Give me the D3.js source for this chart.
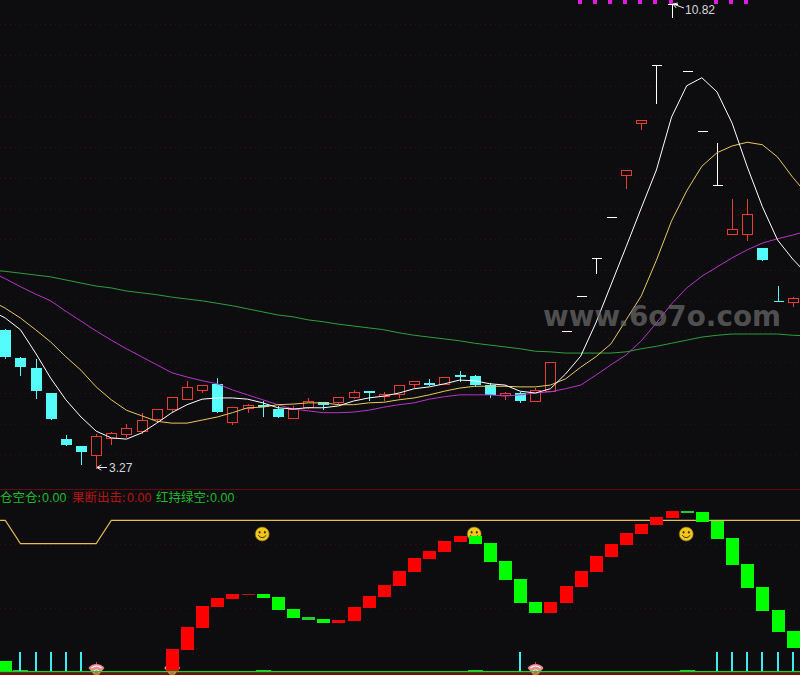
<!DOCTYPE html>
<html><head><meta charset="utf-8">
<script src="https://cdn.jsdelivr.net/npm/d3@7/dist/d3.min.js"></script>
<style>html,body{margin:0;padding:0;background:#0d0d0f;overflow:hidden}svg{display:block}</style>
</head><body>
<script>
const open_ = [5.52,5.06,4.90,4.49,3.74,3.63,3.48,3.76,3.82,3.87,4.07,4.23,4.39,4.54,4.64,4.02,4.25,4.30,4.23,4.08,4.26,4.34,4.34,4.43,4.52,4.44,4.47,4.64,4.65,4.64,4.79,4.77,4.62,4.46,4.49,4.36,4.52,5.50,6.07,6.69,7.35,8.04,8.88,9.83,10.82,9.73,8.75,7.87,7.08,7.08,6.85,5.99,5.97];
const high_ = [5.55,5.09,5.06,4.49,3.82,3.63,3.84,3.87,4.00,4.18,4.23,4.43,4.70,4.62,4.75,4.28,4.33,4.38,4.30,4.30,4.43,4.36,4.43,4.56,4.54,4.52,4.62,4.69,4.73,4.75,4.86,4.80,4.67,4.52,4.52,4.59,4.99,5.50,6.07,6.69,7.35,8.12,8.93,9.83,10.82,9.73,8.75,8.57,7.66,7.66,6.85,6.25,6.07];
const low_ = [5.06,4.78,4.41,4.07,3.64,3.34,3.27,3.66,3.77,3.84,4.03,4.20,4.39,4.51,4.18,3.99,4.18,4.12,4.10,4.08,4.25,4.23,4.31,4.41,4.38,4.38,4.43,4.59,4.62,4.64,4.69,4.60,4.43,4.39,4.34,4.36,4.52,5.50,6.07,6.44,7.35,7.83,8.79,9.21,10.61,9.73,8.75,7.87,7.08,6.98,6.65,5.99,5.91];
const close_ = [5.08,4.91,4.52,4.07,3.64,3.53,3.79,3.84,3.92,4.05,4.23,4.43,4.59,4.62,4.18,4.26,4.30,4.26,4.10,4.23,4.36,4.30,4.43,4.51,4.49,4.47,4.62,4.69,4.64,4.75,4.78,4.62,4.46,4.49,4.36,4.54,4.99,5.50,6.07,6.69,7.35,8.12,8.93,9.83,10.82,9.73,8.75,7.87,7.16,7.40,6.65,5.99,6.04];
const whiteCandles = [37,38,39,40,43,44,45,46,47];
const signalDots = [38,39,40,41,42,43,44,47,48,49];
const priceTicks = [3.5,4,4.5,5,5.5,6,6.5,7,7.5,8,8.5,9,9.5,10,10.5];

// moving averages, index -1 .. 53
const maWhite = [5.84,5.71,5.52,5.14,4.73,4.38,4.10,3.87,3.76,3.74,3.84,4.00,4.17,4.30,4.39,4.41,4.41,4.39,4.33,4.25,4.23,4.25,4.25,4.28,4.36,4.41,4.44,4.49,4.56,4.59,4.64,4.70,4.69,4.64,4.62,4.52,4.49,4.56,4.80,5.09,5.63,6.25,6.87,7.50,8.12,8.98,9.49,9.62,9.39,8.88,8.17,7.52,6.98,6.67,6.41];
const maYellow = [6.00,5.87,5.71,5.52,5.32,5.08,4.86,4.59,4.38,4.21,4.12,4.03,4.00,4.00,4.05,4.10,4.17,4.25,4.26,4.30,4.31,4.33,4.33,4.30,4.30,4.33,4.34,4.38,4.41,4.46,4.52,4.57,4.60,4.60,4.60,4.59,4.59,4.62,4.72,4.91,5.08,5.29,5.68,6.07,6.65,7.29,7.78,8.18,8.40,8.51,8.57,8.53,8.33,8.00,7.71];
const maPurple = [6.46,6.35,6.22,6.10,5.99,5.82,5.66,5.50,5.35,5.21,5.08,4.95,4.82,4.75,4.69,4.64,4.54,4.46,4.38,4.30,4.23,4.20,4.17,4.17,4.18,4.21,4.26,4.30,4.33,4.39,4.43,4.46,4.46,4.46,4.44,4.46,4.49,4.51,4.56,4.62,4.78,4.95,5.11,5.34,5.63,5.94,6.20,6.39,6.54,6.69,6.82,6.93,7.00,7.06,7.13];
const maGreen = [6.49,6.47,6.44,6.41,6.38,6.33,6.28,6.23,6.20,6.15,6.12,6.09,6.05,6.02,5.99,5.95,5.91,5.86,5.81,5.76,5.73,5.68,5.65,5.61,5.58,5.55,5.52,5.47,5.43,5.40,5.37,5.34,5.30,5.27,5.24,5.21,5.17,5.16,5.14,5.14,5.14,5.14,5.16,5.21,5.25,5.30,5.35,5.40,5.43,5.45,5.45,5.45,5.45,5.43,5.42];

// lower panel
const swingOpen = [3.1,.3,null,null,null,null,null,null,null,null,null,0,6.6,13.5,20.1,22.6,23.9,24.2,23.2,19.5,17.0,16.3,15.1,15.7,19.8,23.2,26.7,31.1,35.2,37.4,40.5,42.4,40.2,34.5,28.9,21.7,18.2,21.4,26.4,31.1,35.8,39.6,43.0,45.8,48.0,50.2,49.9,47.1,41.8,33.6,26.4,19.2,12.6];
const swingClose = [0,0,null,null,null,null,null,null,null,null,null,6.9,13.8,20.4,22.9,24.2,24.2,22.9,19.2,16.6,16.0,15.1,16.0,20.1,23.6,27.0,31.4,35.5,37.7,40.8,42.4,39.9,34.2,28.6,21.4,18.2,21.7,26.7,31.4,36.1,39.9,43.3,46.2,48.4,50.2,49.6,46.8,41.4,33.3,26.1,18.8,12.2,7.2];
const limitLine = [47.3,47.3,40,40,40,40,40,40,47.3,47.3,47.3];
const limitIdx = [-1,0,1,2,3,4,5,6,7,30,53];
const stickIdx = [1,2,3,4,5,34,47,48,49,50,51,52];
const stickValue = 6;
const thinBars = [1,17,31,45];
const smileIdx = [17,31,45];
const smileValue = 43;
const gemIdx = [6,11,35];
const swingTicks = [20,40];
const legendItems = [
  {label:"仓空仓: ", value:"0.00", color:"#1fbb2b"},
  {label:"果断出击: ", value:"0.00", color:"#b81414"},
  {label:"红持绿空: ", value:"0.00", color:"#1fbb2b"}
];

const BG = "#0d0d0f", RED = "#e83c34", CYAN = "#54fcfc";
const W = 800, H = 675;
const svg = d3.select("body").append("svg").attr("width",W).attr("height",H);
svg.append("rect").attr("width",W).attr("height",H).attr("fill",BG);

const x = d3.scaleLinear().domain([0,52]).range([5.3,792.7]);
const y = d3.scaleLinear().domain([3.27,10.82]).range([468,4]);
const yLow = d3.scaleLinear().domain([0,50]).range([671,511.75]);
const px = i => Math.round(x(i));
const rnd = v => Math.round(v);

// grids
const gridStyle = g => { g.select(".domain").remove();
  g.selectAll("line").attr("stroke","#3c1212").attr("stroke-dasharray","1 4").attr("stroke-width",1); };
svg.append("g").attr("transform","translate(0,0.5)")
  .call(d3.axisRight(y).tickValues(priceTicks).tickSize(W).tickFormat(""))
  .call(gridStyle);
svg.append("g").attr("transform","translate(0,0.5)")
  .call(d3.axisRight(yLow).tickValues(swingTicks).tickSize(W).tickFormat(""))
  .call(gridStyle);

// candles
const candles = svg.append("g").attr("shape-rendering","crispEdges");
open_.forEach((o,i) => {
  const c = close_[i], h = high_[i], l = low_[i], cx = px(i);
  const top = rnd(y(Math.max(o,c))), bot = rnd(y(Math.min(o,c)));
  const ln = (x1,y1,x2,y2,col) => candles.append("line").attr("x1",x1+.5).attr("x2",x2+.5).attr("y1",y1+.5).attr("y2",y2+.5).attr("stroke",col);
  if (o === c) {
    const col = whiteCandles.includes(i) ? "#ffffff" : CYAN;
    ln(cx-5,top,cx+5,top,col);
    ln(cx,rnd(y(h)),cx,rnd(y(l)),col);
  } else if (c > o) {
    ln(cx,rnd(y(h)),cx,top,RED);
    ln(cx,bot,cx,rnd(y(l)),RED);
    candles.append("rect").attr("x",cx-5+.5).attr("y",top+.5).attr("width",10).attr("height",Math.max(1,bot-top)).attr("fill",BG).attr("stroke",RED);
  } else {
    ln(cx,rnd(y(h)),cx,rnd(y(l)),CYAN);
    candles.append("rect").attr("x",cx-5).attr("y",top).attr("width",11).attr("height",Math.max(2,bot-top)).attr("fill",CYAN);
  }
});

// moving averages
const maLine = d3.line().x((d,i)=>x(i-1)).y(d=>y(d));
[[maGreen,"#2f9e3f",1],[maPurple,"#b535c8",1],[maYellow,"#e8c860",1],[maWhite,"#ffffff",1]].forEach(([d,col,w])=>{
  svg.append("path").attr("d",maLine(d)).attr("fill","none").attr("stroke",col).attr("stroke-width",w);
});

// signal dots
svg.append("g").attr("shape-rendering","crispEdges").selectAll("rect").data(signalDots).join("rect")
  .attr("x",i=>px(i)-3).attr("y",0).attr("width",4).attr("height",4).attr("fill","#e01ee0");

// high/low labels
function arrow(x1,y1,x2,y2){
  const a = Math.atan2(y1-y2,x1-x2), s=5;
  svg.append("line").attr("x1",x1).attr("y1",y1).attr("x2",x2).attr("y2",y2).attr("stroke","#f0f0f0").attr("stroke-width",1);
  svg.append("path").attr("fill","none").attr("stroke","#f0f0f0")
    .attr("d",`M${x1+s*Math.cos(a+2.6)},${y1+s*Math.sin(a+2.6)}L${x1},${y1}L${x1+s*Math.cos(a-2.6)},${y1+s*Math.sin(a-2.6)}`);
}
const lowI = d3.range(open_.length).reduce((a,b)=>low_[b]<low_[a]?b:a,0);
const highI = d3.range(open_.length).reduce((a,b)=>high_[b]>high_[a]?b:a,0);
arrow(px(lowI)+1,y(low_[lowI])-0.5,px(lowI)+11,y(low_[lowI])-0.5);
arrow(px(highI)+1,y(high_[highI]),px(highI)+12,y(high_[highI])+4);
const lab = (xx,yy,t)=>svg.append("text").attr("x",xx).attr("y",yy).attr("fill","#d6d6d6").attr("font-family","Liberation Sans, Arial, sans-serif").attr("font-size",12).text(t);
lab(109,471.5,low_[lowI].toFixed(2));
lab(685,14,high_[highI].toFixed(2));

// panel separators
svg.append("line").attr("x1",0).attr("x2",W).attr("y1",489.5).attr("y2",489.5).attr("stroke","#5c0c0c");
svg.append("rect").attr("x",0).attr("y",673).attr("width",W).attr("height",2).attr("fill","#80090f");

// legend
const legendX = [[0,42],[72,127],[156,210]];
legendItems.forEach((d,i)=>{
  svg.append("text").attr("x",legendX[i][0]).attr("y",502).attr("fill",d.color).attr("font-size",12.5)
    .attr("font-family","'Noto Sans CJK SC',sans-serif").text(d.label.trim());
  svg.append("text").attr("x",legendX[i][1]).attr("y",502).attr("fill",d.color).attr("font-size",12.5)
    .attr("font-family","Liberation Sans, Arial, sans-serif").text(d.value);
});

// limit line
const limitPath = d3.line().x((d,i)=>x(limitIdx[i])).y(d=>yLow(d));
svg.append("path").attr("d",limitPath(limitLine)).attr("fill","none").attr("stroke","#e6bd55").attr("stroke-width",1.1);

// smileys
function smile(i){
  const g = svg.append("g").attr("transform",`translate(${x(i)-0.5},${yLow(smileValue)})`);
  g.append("circle").attr("r",7).attr("fill","#f2c81e").attr("stroke","#7c6410").attr("stroke-width",.6);
  [-2.6,2.6].forEach(dx=>g.append("ellipse").attr("cx",dx).attr("cy",-1.8).attr("rx",.9).attr("ry",1.3).attr("fill","#3a2e05"));
  g.append("path").attr("d","M-4,1.2Q0,6 4,1.2").attr("fill","none").attr("stroke","#3a2e05").attr("stroke-width",1);
}
smileIdx.forEach(smile);

// gems
function gem(i){
  const g = svg.append("g").attr("transform",`translate(${x(i)+0.3},${yLow(0)-4})`);
  g.append("path").attr("d","M-8,1Q-5,-3 0,-3Q5,-3 8,1L2,8L-2,8Z").attr("fill","#f08a90");
  g.append("path").attr("d","M-5,1Q0,-3 5,1").attr("fill","none").attr("stroke","#ffffff").attr("stroke-width",1.1);
  g.append("path").attr("d","M-3,4Q0,1 3,4").attr("fill","none").attr("stroke","#ffd8d8").attr("stroke-width",1);
  g.append("line").attr("x1",0).attr("x2",0).attr("y1",-5).attr("y2",-3).attr("stroke","#e04a4a");
  g.append("rect").attr("x",-2).attr("y",5).attr("width",4).attr("height",3).attr("fill","#c8702a");
}
gemIdx.forEach(gem);

// swing bars
const bars = svg.append("g").attr("shape-rendering","crispEdges");
swingOpen.forEach((o,i)=>{
  const c = swingClose[i];
  if (o === null) return;
  const top = rnd(yLow(Math.max(o,c))), bot = rnd(yLow(Math.min(o,c)));
  const thin = bot-top <= 1;
  bars.append("rect").attr("x",px(i)-6).attr("y",top).attr("width",13).attr("height",Math.max(1,bot-top))
    .attr("fill", c>o ? (thin?"#c01010":"#ff0000") : (bot-top<=3?"#22cc33":"#00ff00"));
});

// thin base bars, base line and cyan sticks
bars.selectAll(".tb").data(thinBars).join("rect").attr("class","tb")
  .attr("x",i=>px(i)-7).attr("y",yLow(0)-1).attr("width",15).attr("height",1).attr("fill","#22cc33");
svg.append("rect").attr("x",0).attr("y",671).attr("width",W).attr("height",1.4).attr("fill","#1fcf2a");
bars.selectAll(".st").data(stickIdx).join("rect").attr("class","st")
  .attr("x",i=>px(i)-1).attr("y",yLow(stickValue)).attr("width",2).attr("height",i=>yLow(0)-yLow(stickValue))
  .attr("fill","#3cecf0");

// watermark
svg.append("text").attr("x",543).attr("y",326).attr("textLength",238).attr("lengthAdjust","spacingAndGlyphs")
  .attr("font-family","DejaVu Sans").attr("font-weight","bold").attr("font-size",29)
  .attr("fill","#666666").attr("fill-opacity",.75).text("www.6o7o.com");
</script>
</body></html>
